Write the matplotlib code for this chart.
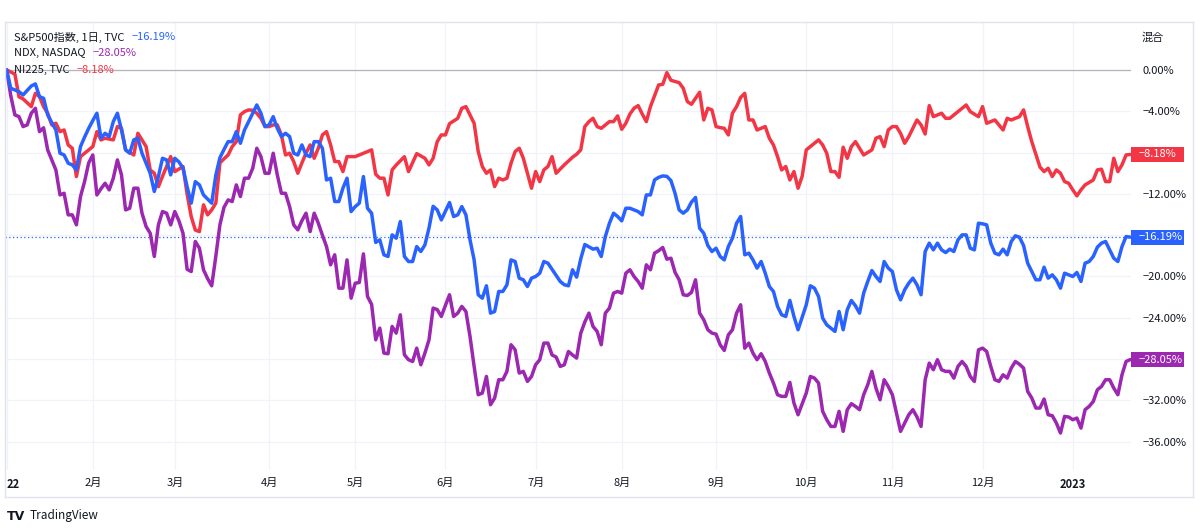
import matplotlib
matplotlib.use('Agg')
import matplotlib.pyplot as plt
from matplotlib.lines import Line2D
from matplotlib.patches import Rectangle
import matplotlib.transforms as mtransforms
import pandas as pd

plt.rcParams['font.family'] = ['Noto Sans CJK JP', 'DejaVu Sans']

# (trading session number from 2022-01-03, % change since start)
ni225 = [(0, 0.0), (2, -0.4), (3, -2.6), (4, -2.8), (6, -3.55), (7, -2.26), (8, -2.58), (9, -3.55), (10, -4.19),
         (11, -5.32), (12, -5.16), (13, -5.97), (14, -5.81), (15, -7.26), (16, -7.58), (17, -10.32), (18, -8.39),
         (20, -7.74), (21, -7.42), (22, -5.97), (23, -6.77), (24, -6.61), (26, -6.77), (27, -5.48), (28, -5.65),
         (29, -7.74), (31, -8.23), (32, -6.13), (33, -6.77), (34, -7.42), (35, -9.68), (36, -10.0), (37, -11.3),
         (38, -10.3), (39, -9.35), (40, -8.39), (41, -9.84), (42, -9.6), (43, -9.35), (44, -12.0), (45, -14.19),
         (46, -15.5), (47, -15.65), (48, -13.06), (49, -14.03), (50, -13.55), (51, -12.9), (52, -9.0), (53, -8.6),
         (54, -8.23), (55, -7.42), (56, -6.94), (57, -4.35), (58, -4.03), (59, -3.87), (60, -3.9), (61, -4.19),
         (62, -4.68), (63, -5.48), (64, -5.48), (65, -5.32), (66, -5.32), (67, -6.29), (68, -8.23), (69, -8.06),
         (70, -8.87), (71, -10.0), (72, -9.0), (73, -8.06), (74, -7.26), (75, -8.55), (76, -7.58), (77, -6.29),
         (78, -5.97), (79, -7.26), (80, -8.87), (81, -8.87), (82, -9.84), (83, -8.39), (85, -8.39), (87, -8.06),
         (89, -7.74), (90, -10.1), (91, -10.48), (92, -10.48), (93, -12.1), (94, -9.68), (95, -9.2), (97, -8.4),
         (98, -9.84), (100, -8.1), (102, -8.55), (103, -9.19), (104, -8.55), (105, -6.94), (106, -6.29),
         (107, -6.29), (108, -5.2), (110, -4.68), (111, -3.71), (112, -3.55), (114, -5.16), (115, -7.9),
         (116, -9.35), (117, -10.0), (118, -9.68), (119, -11.29), (120, -10.48), (121, -10.65), (122, -10.48),
         (123, -9.03), (124, -7.9), (125, -7.58), (126, -8.55), (127, -10.0), (128, -11.45), (129, -9.84),
         (130, -10.81), (131, -9.68), (132, -9.35), (133, -8.39), (134, -10.0), (136, -9.19), (138, -8.45),
         (139, -8.16), (140, -7.74), (141, -5.48), (142, -5.0), (143, -4.68), (144, -5.48), (145, -5.65),
         (146, -5.32), (147, -5.0), (148, -5.0), (149, -4.45), (150, -5.74), (151, -5.16), (152, -4.26),
         (153, -3.71), (154, -3.45), (155, -4.26), (156, -5.0), (157, -3.55), (158, -2.5), (159, -1.45),
         (160, -1.39), (161, -0.26), (162, -1.0), (164, -1.23), (165, -1.77), (166, -3.06), (167, -3.32),
         (168, -2.74), (169, -2.16), (170, -4.84), (171, -3.71), (172, -3.87), (173, -5.48), (174, -5.58),
         (175, -5.65), (176, -6.29), (177, -4.19), (178, -3.55), (179, -2.66), (180, -2.26), (181, -4.84),
         (182, -4.84), (183, -5.81), (184, -5.65), (185, -5.48), (186, -6.61), (187, -7.26), (188, -8.39),
         (189, -9.68), (190, -9.35), (191, -10.65), (192, -9.84), (193, -11.45), (194, -10.3), (195, -7.74),
         (196, -7.42), (198, -6.77), (199, -7.26), (200, -8.06), (201, -9.84), (202, -9.84), (203, -10.39),
         (204, -7.48), (205, -8.55), (206, -7.42), (207, -6.94), (208, -7.58), (209, -8.23), (211, -7.74),
         (212, -6.61), (213, -6.45), (214, -7.42), (215, -5.81), (216, -5.48), (217, -5.48), (218, -6.13),
         (219, -7.1), (220, -6.45), (222, -4.84), (223, -5.32), (224, -6.2), (225, -3.45), (226, -4.52),
         (228, -4.19), (229, -4.68), (230, -4.68), (232, -4.03), (234, -3.39), (235, -4.03), (237, -4.52),
         (238, -3.55), (239, -5.16), (241, -4.84), (242, -5.32), (243, -5.81), (244, -4.68), (245, -4.84),
         (247, -4.52), (248, -3.87), (249, -5.48), (250, -6.94), (252, -9.4), (253, -9.84), (254, -9.52),
         (255, -10.32), (256, -9.68), (257, -10.0), (258, -10.81), (259, -10.97), (260, -11.61), (261, -12.19),
         (262, -11.61), (263, -11.13), (265, -10.65), (266, -9.68), (267, -9.61), (268, -10.81), (269, -10.81),
         (270, -8.55), (271, -9.84), (272, -9.19), (273, -8.23), (274, -8.18)]

spx = [(0, 0.0), (1, -1.77), (3, -2.1), (4, -2.42), (6, -1.55), (7, -1.35), (8, -2.58), (9, -2.74), (10, -4.35),
       (11, -5.1), (12, -5.81), (13, -8.06), (14, -8.23), (15, -9.03), (16, -9.19), (17, -9.68), (18, -7.42),
       (19, -6.5), (20, -5.65), (21, -4.9), (22, -4.19), (23, -6.61), (24, -6.13), (25, -6.45), (26, -5.0),
       (27, -4.19), (28, -5.81), (29, -7.74), (30, -8.06), (31, -6.77), (32, -6.61), (33, -8.06), (34, -9.03),
       (35, -10.0), (36, -11.77), (37, -10.32), (38, -8.55), (39, -8.71), (40, -10.16), (41, -8.55), (42, -8.9),
       (43, -9.5), (44, -11.3), (45, -12.9), (46, -10.81), (47, -11.13), (48, -12.1), (49, -12.5), (50, -12.9),
       (51, -10.2), (52, -8.5), (53, -7.7), (54, -6.94), (55, -6.94), (56, -5.97), (57, -7.1), (58, -5.81),
       (59, -5.0), (60, -4.2), (61, -3.39), (62, -4.19), (63, -5.48), (64, -5.32), (65, -4.52), (66, -5.65),
       (67, -6.45), (68, -6.13), (69, -6.45), (70, -8.06), (71, -8.23), (72, -7.26), (73, -8.23), (74, -8.39),
       (75, -6.94), (76, -6.94), (77, -7.58), (78, -10.65), (79, -10.48), (80, -12.74), (81, -12.74),
       (82, -11.45), (83, -10.48), (84, -13.71), (85, -13.23), (86, -12.9), (87, -10.32), (88, -13.39),
       (89, -13.87), (90, -16.7), (91, -16.45), (92, -17.9), (93, -18.06), (94, -15.97), (95, -16.29),
       (96, -14.68), (97, -18.06), (98, -18.55), (99, -18.55), (100, -17.1), (101, -17.58), (102, -16.94),
       (103, -15.3), (104, -13.2), (105, -13.55), (106, -14.52), (108, -12.84), (109, -14.19), (110, -14.03),
       (111, -13.23), (112, -14.03), (113, -16.45), (114, -18.39), (115, -21.77), (116, -22.1), (117, -20.9),
       (118, -23.55), (119, -23.39), (120, -21.45), (121, -21.45), (122, -20.81), (123, -18.39), (124, -18.55),
       (125, -20.16), (126, -20.32), (127, -20.97), (128, -20.16), (129, -20.0), (130, -19.68), (131, -18.55),
       (132, -18.71), (133, -19.3), (135, -20.48), (136, -20.8), (137, -20.9), (138, -19.35), (139, -20.06),
       (140, -18.3), (141, -16.9), (143, -17.35), (144, -17.26), (145, -18.06), (146, -16.13), (147, -14.84),
       (148, -13.87), (149, -14.19), (150, -14.61), (151, -13.39), (152, -13.39), (153, -13.55), (154, -13.71),
       (155, -14.03), (156, -12.1), (157, -12.1), (158, -10.65), (159, -10.4), (160, -10.26), (161, -10.3),
       (162, -10.71), (163, -11.94), (164, -13.55), (165, -13.87), (166, -13.55), (167, -12.8), (168, -12.35),
       (169, -15.32), (170, -15.81), (171, -17.0), (172, -17.58), (173, -17.26), (174, -18.06), (175, -18.39),
       (176, -17.1), (177, -16.29), (178, -14.84), (179, -14.19), (180, -17.9), (181, -17.74), (182, -18.39),
       (183, -19.19), (184, -18.55), (185, -19.68), (186, -20.97), (187, -21.45), (188, -22.9), (189, -23.71),
       (190, -23.87), (191, -22.32), (192, -23.87), (193, -25.16), (195, -22.74), (196, -20.9), (197, -21.13),
       (198, -21.94), (199, -24.03), (200, -24.68), (201, -25.0), (202, -25.32), (203, -23.39), (204, -25.16),
       (205, -23.23), (206, -22.32), (207, -22.84), (208, -23.55), (209, -21.61), (210, -20.48), (211, -19.42),
       (212, -20.0), (213, -20.48), (214, -18.55), (215, -19.19), (216, -19.52), (217, -21.29), (218, -22.26),
       (219, -21.29), (220, -20.65), (221, -20.16), (222, -20.8), (223, -21.77), (224, -17.58), (225, -16.77),
       (226, -17.42), (227, -16.77), (228, -17.42), (229, -17.68), (230, -17.35), (231, -17.58), (232, -16.45),
       (233, -15.97), (234, -15.97), (235, -17.26), (236, -17.42), (237, -14.84), (238, -14.9), (239, -15.0),
       (240, -16.77), (241, -17.74), (242, -17.9), (243, -17.35), (244, -17.9), (245, -16.61), (246, -16.06),
       (247, -16.2), (248, -17.0), (249, -18.71), (250, -19.52), (251, -20.32), (252, -20.32), (253, -19.1),
       (254, -20.16), (255, -19.84), (256, -20.32), (257, -21.13), (258, -19.68), (259, -19.84), (260, -20.0),
       (261, -19.61), (262, -20.48), (263, -18.71), (264, -18.55), (265, -18.06), (266, -17.16), (267, -16.77),
       (268, -16.61), (269, -17.42), (270, -18.23), (271, -18.55), (272, -17.1), (273, -16.13), (274, -16.19)]

ndx = [(0, 0.0), (1, -2.5), (2, -4.35), (3, -4.52), (4, -5.48), (5, -5.32), (6, -4.19), (7, -3.71), (8, -5.97),
       (9, -5.6), (10, -7.74), (11, -8.71), (12, -9.68), (13, -12.1), (14, -11.94), (15, -14.03), (16, -14.03),
       (17, -15.0), (18, -12.26), (19, -10.8), (20, -9.0), (21, -8.23), (22, -12.1), (23, -11.5), (24, -10.97),
       (25, -11.61), (26, -10.48), (27, -8.71), (28, -10.16), (29, -13.55), (30, -13.39), (31, -11.45),
       (32, -11.45), (33, -13.87), (34, -15.16), (35, -15.81), (36, -18.06), (37, -15.0), (38, -13.71),
       (39, -13.87), (40, -15.0), (41, -13.71), (42, -14.6), (43, -15.81), (44, -19.3), (45, -19.52),
       (46, -16.61), (47, -17.26), (48, -19.35), (49, -20.2), (50, -20.9), (51, -18.06), (52, -15.0),
       (53, -13.3), (54, -12.58), (55, -12.74), (56, -11.13), (57, -12.26), (58, -10.48), (59, -10.48),
       (60, -9.52), (61, -7.58), (62, -8.39), (63, -10.0), (64, -10.0), (65, -8.06), (66, -10.16), (67, -11.94),
       (68, -11.94), (69, -13.23), (70, -15.0), (71, -15.48), (72, -14.6), (73, -13.87), (74, -15.65),
       (75, -13.87), (76, -14.84), (77, -16.0), (78, -17.1), (79, -18.87), (80, -17.9), (81, -21.13),
       (82, -21.13), (83, -18.39), (84, -22.1), (85, -20.65), (86, -20.58), (87, -17.81), (88, -21.94),
       (89, -22.7), (90, -26.13), (91, -25.0), (92, -27.42), (93, -27.48), (94, -24.84), (95, -25.48),
       (96, -23.71), (97, -27.58), (98, -28.06), (99, -28.23), (100, -26.94), (101, -28.55), (102, -27.42),
       (103, -26.13), (104, -23.06), (105, -23.2), (106, -23.87), (107, -22.8), (108, -21.77), (109, -23.87),
       (110, -23.55), (111, -22.9), (112, -23.39), (113, -25.81), (114, -28.71), (115, -31.45), (116, -31.29),
       (117, -29.68), (118, -32.42), (119, -31.77), (120, -30.0), (121, -30.0), (122, -29.19), (123, -26.61),
       (124, -27.1), (125, -29.35), (126, -29.19), (127, -30.16), (128, -29.68), (129, -28.55), (130, -28.06),
       (131, -26.45), (132, -26.45), (133, -27.6), (134, -27.8), (135, -28.71), (136, -28.55), (137, -27.26),
       (138, -27.6), (139, -27.9), (140, -25.5), (141, -24.4), (142, -23.55), (143, -24.84), (144, -25.32),
       (145, -26.61), (146, -23.55), (147, -23.06), (148, -21.61), (149, -21.45), (150, -21.61), (151, -19.68),
       (152, -19.35), (153, -20.0), (154, -20.48), (155, -21.13), (156, -18.87), (157, -19.35), (158, -17.74),
       (159, -17.5), (160, -17.19), (161, -18.32), (162, -18.23), (163, -19.6), (164, -20.32), (165, -21.77),
       (166, -21.84), (167, -21.55), (168, -20.32), (169, -23.55), (170, -24.19), (171, -25.16), (172, -25.48),
       (173, -25.58), (174, -26.61), (175, -27.16), (176, -25.65), (177, -25.16), (178, -23.55), (179, -22.74),
       (180, -26.94), (181, -26.45), (182, -27.42), (183, -28.06), (184, -27.48), (185, -28.23), (186, -29.35),
       (187, -30.32), (188, -31.45), (189, -31.61), (190, -31.61), (191, -30.26), (192, -32.26), (193, -33.39),
       (195, -31.29), (196, -29.68), (197, -29.84), (198, -30.32), (199, -33.06), (200, -33.87), (201, -34.52),
       (202, -34.52), (203, -33.06), (204, -35.0), (205, -32.9), (206, -32.32), (207, -32.58), (208, -32.9),
       (209, -31.45), (210, -30.48), (211, -29.19), (212, -30.81), (213, -31.94), (214, -30.0), (215, -30.65),
       (216, -31.45), (217, -33.23), (218, -35.0), (219, -34.19), (220, -33.39), (221, -32.9), (222, -33.6),
       (223, -34.52), (224, -30.0), (225, -28.39), (226, -29.03), (227, -28.06), (228, -29.03), (229, -29.19),
       (230, -29.19), (231, -29.84), (232, -28.71), (233, -28.23), (234, -28.71), (235, -29.68), (236, -30.16),
       (237, -27.1), (238, -26.94), (239, -27.26), (240, -28.71), (241, -30.0), (242, -30.16), (243, -29.52),
       (244, -29.84), (245, -28.87), (246, -28.23), (247, -28.5), (248, -28.87), (249, -31.13), (250, -31.77),
       (251, -32.74), (252, -32.74), (253, -31.87), (254, -33.39), (255, -33.48), (256, -34.19), (257, -35.16),
       (258, -33.55), (259, -33.61), (260, -33.87), (261, -33.71), (262, -34.68), (263, -32.9), (264, -32.58),
       (265, -32.1), (266, -30.97), (267, -30.65), (268, -30.0), (269, -30.0), (270, -30.81), (271, -31.45),
       (272, -29.52), (273, -28.23), (274, -28.05)]

names = ['S&P500指数, 1日, TVC', 'NDX, NASDAQ', 'NI225, TVC']
y_ticks = [0, -4, -8, -12, -16, -20, -24, -28, -32, -36]

RED = '#f23645'
BLUE = '#2962ff'
PURPLE = '#9c27b0'
TXT = '#131722'
GRID = '#f0f3fa'

sessions = pd.bdate_range('2022-01-03', periods=275)
month_pos = [i for i in range(len(sessions)) if i == 0 or sessions[i].month != sessions[i - 1].month]
month_lab = []
for i in month_pos:
    d = sessions[i]
    month_lab.append(str(d.year) if d.month == 1 else f'{d.month}月')
month_lab[0] = '22'


def pct(v):
    s = f'{v:.2f}%'
    return s.replace('-', '\u2212')


fig = plt.figure(figsize=(12, 5.29), dpi=100)
W, H = 1200, 529
ax = fig.add_axes([5 / W, 1 - 470 / H, 1126 / W, 447 / H])
ax.set_xlim(-0.41, 274.2)
ax.set_ylim(-38.74, 4.55)
for s in ax.spines.values():
    s.set_visible(False)

ax.set_yticks(y_ticks)
ax.set_xticks(month_pos)
ax.grid(True, color=GRID, linewidth=0.9)
ax.set_axisbelow(True)
ax.axhline(0, color='#b2b5be', linewidth=0.9, zorder=1)
ax.axhline(spx[-1][1], color=BLUE, linewidth=0.9, linestyle=(0, (1, 2)), zorder=1)

series = [(ni225, RED), (ndx, PURPLE), (spx, BLUE)]
for data, col in series:
    xs = [d for d, v in data]
    ys = [v for d, v in data]
    ax.plot(xs, ys, color=col, linewidth=2.5, solid_joinstyle='round', solid_capstyle='round', zorder=3)

# right price scale
ax.yaxis.tick_right()
covered = {-8, -16, -28}
ax.set_yticklabels(['' if t in covered else pct(t) for t in y_ticks])
ax.tick_params(axis='y', length=0, pad=8, labelsize=8, labelcolor=TXT)
ax.tick_params(axis='x', length=0, pad=6, labelsize=8, labelcolor=TXT)
ax.set_xticklabels(month_lab)
for lab in ax.get_xticklabels():
    if lab.get_text() in ('22', '2023'):
        lab.set_fontweight('bold')
ax.get_xticklabels()[0].set_horizontalalignment('left')

# last value tags
trans = mtransforms.blended_transform_factory(ax.transAxes, ax.transData)
for data, col in series:
    v = data[-1][1]
    ax.add_patch(Rectangle((1.0, v - 0.73), 53 / 1126, 1.46, transform=trans, facecolor=col,
                           edgecolor='none', clip_on=False, zorder=5))
    ax.text(1.0 + 8 / 1126, v, pct(v), transform=trans, color='white', fontsize=8,
            va='center', ha='left', clip_on=False, zorder=6)

fig.text(1142 / W, 1 - 38 / H, '混合', fontsize=8, color=TXT, va='center', ha='left')

# legend in the top-left corner
legend_rows = [(names[0], spx, BLUE, 37), (names[1], ndx, PURPLE, 53), (names[2], ni225, RED, 70)]
for name, data, col, ypix in legend_rows:
    t = fig.text(14 / W, 1 - ypix / H, name, fontsize=8, color=TXT, va='center', ha='left')
    ax.annotate(pct(data[-1][1]), xy=(1, 0.5), xycoords=t, xytext=(5, 0), textcoords='offset points',
                va='center', ha='left', fontsize=8, color=col, annotation_clip=False)

# frame
fr = '#e0e3eb'
fig.add_artist(Line2D([5 / W, 1193 / W], [1 - 22 / H, 1 - 22 / H], color=fr, linewidth=1))
fig.add_artist(Line2D([5 / W, 1193 / W], [1 - 497 / H, 1 - 497 / H], color=fr, linewidth=1))
fig.add_artist(Line2D([5 / W, 5 / W], [1 - 22 / H, 1 - 497 / H], color=fr, linewidth=1))
fig.add_artist(Line2D([1193 / W, 1193 / W], [1 - 22 / H, 1 - 497 / H], color=fr, linewidth=1))

# logo
logo = fig.text(7 / W, 1 - 516 / H, 'TV', fontsize=9, fontweight='heavy', color=TXT, va='center',
                ha='left', family='DejaVu Sans')
ax.annotate('TradingView', xy=(1, 0.5), xycoords=logo, xytext=(3, 0), textcoords='offset points',
            va='center', ha='left', fontsize=8.5, color=TXT, annotation_clip=False)

fig.savefig('out.png', dpi=100, facecolor='white')
